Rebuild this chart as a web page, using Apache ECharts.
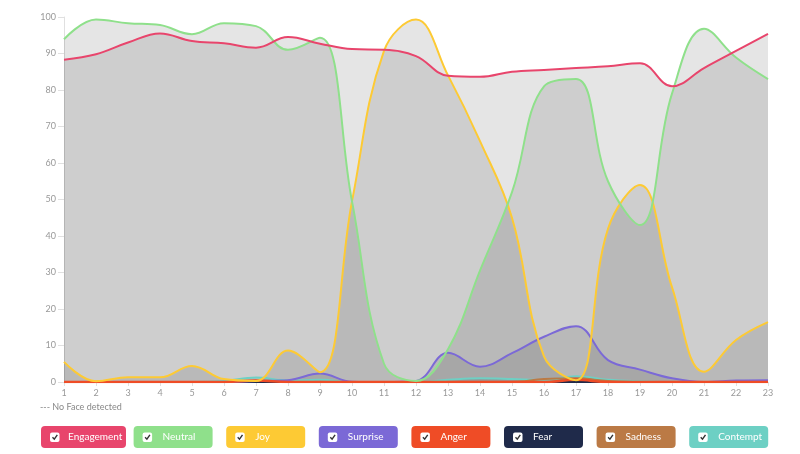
<!DOCTYPE html>
<html>
<head>
<meta charset="utf-8">
<script src="https://cdn.jsdelivr.net/npm/echarts@6/dist/echarts.min.js"></script>
<style>
html,body{margin:0;padding:0;background:#fff;}
#chart{width:800px;height:454px;}
</style>
</head>
<body>
<div id="chart"></div>
<script>
const categories = ['1','2','3','4','5','6','7','8','9','10','11','12','13','14','15','16','17','18','19','20','21','22','23'];
const seriesNames = ['Engagement','Neutral','Joy','Surprise','Anger','Fear','Sadness','Contempt'];
const seriesColors = ['#e8456c','#8fe08b','#fdca34','#7b69d6','#ef4c26','#1f2a4a','#bb7a45','#6dd0c4'];
const engagement = [88.3,89.8,93.0,95.5,93.4,92.8,91.6,94.5,92.7,91.2,91.0,89.3,83.9,83.6,85.0,85.5,86.0,86.5,87.3,81.0,86.0,90.7,95.4];
const neutral    = [93.9,99.3,98.3,97.8,95.3,98.3,97.5,91.0,94.3,49.5,5.0,0.3,9.0,30.5,52.0,81.0,83.0,55.0,43.0,79.0,96.8,88.9,83.0];
const joy        = [5.5,0.2,1.3,1.3,4.4,0.8,0.3,8.6,2.7,49.5,90.7,99.3,84.0,66.0,45.0,7.0,0.5,42.0,54.0,26.0,2.8,11.5,16.4];
const surprise   = [0,0,0,0,0,0,0.3,0.5,2.3,0.1,0,0.3,8.0,4.2,7.9,12.4,15.3,6.0,3.4,1.0,0,0.4,0.5];
const anger      = [0,0,0,0,0,0,0.4,0,0,0,0,0,0,0,0,0,0.6,0,0,0,0,0,0];
const fear       = [0,0,0,0,0,0,0,0,0,0,0,0,0,0,0,0,0,0,0,0,0,0,0];
const sadness    = [0,0,0,0,0,0,0,0,0,0,0,0,0,0,0,0.8,1.0,0.3,0,0,0,0,0];
const contempt   = [0,0,0,0,0,0.3,1.2,0.4,0.6,0,0,0,0.6,1.0,0.8,0.5,1.6,0.6,0.2,0,0,0,0];
const yTicks = {min:0, max:100, interval:10};
const noteText = '--- No Face detected';

const seriesData = [engagement, neutral, joy, surprise, anger, fear, sadness, contempt];
// line stacking order (higher = drawn on top)
const lineZ = [20, 19, 18, 16, 17, 15, 14, 13];

const chart = echarts.init(document.getElementById('chart'), null, {renderer:'canvas'});

const series = [];
for (let i = seriesNames.length - 1; i >= 0; i--) {
  series.push({
    name: seriesNames[i] + ' area',
    type: 'line',
    data: seriesData[i],
    smooth: 0.4,
    symbol: 'none',
    silent: true,
    lineStyle: {width: 0, opacity: 0},
    areaStyle: {color: 'rgba(0,0,0,0.1)', opacity: 1, origin: 'start'},
    z: 2
  });
}
for (let i = seriesNames.length - 1; i >= 0; i--) {
  series.push({
    name: seriesNames[i],
    type: 'line',
    data: seriesData[i],
    smooth: 0.4,
    symbol: 'none',
    lineStyle: {color: seriesColors[i], width: i === 4 ? 2.5 : 2},
    itemStyle: {color: seriesColors[i]},
    z: lineZ[i]
  });
}

const graphics = [{
  type: 'text', left: 40, top: 403,
  style: {text: noteText, fill: '#888', font: '9px Lato, sans-serif'}
}];
seriesNames.forEach((name, i) => {
  const x = 41 + i * 92.6;
  const w = i === 0 ? 85 : 79;
  graphics.push({
    type: 'group', left: x, top: 426,
    children: [
      {type:'rect', shape:{x:0,y:0,width:w,height:22,r:4}, style:{fill:seriesColors[i]}},
      {type:'rect', shape:{x:9,y:6.5,width:9.5,height:9.5,r:2}, style:{fill:'#fff'}},
      {type:'polyline', shape:{points:[[11.5,11.3],[13.3,13.2],[16.3,8.8]]}, style:{stroke:'#333', lineWidth:1.4, fill:null}},
      {type:'text', x: i === 0 ? 27 : 29, y: 11, style:{text:name, fill:'#fff', font:'10px Lato, sans-serif', verticalAlign:'middle', textVerticalAlign:'middle'}}
    ]
  });
});

chart.setOption({
  animation: false,
  grid: {left: 64, right: 32, top: 17, bottom: 72, containLabel: false},
  xAxis: {
    type: 'category',
    data: categories,
    boundaryGap: false,
    axisLine: {show: true, lineStyle: {color: '#e0e0e0'}},
    axisTick: {show: true, alignWithLabel: true, length: 4, lineStyle: {color: '#e0e0e0'}},
    axisLabel: {color: '#999', fontSize: 9, margin: 7, fontFamily: 'Lato, sans-serif'},
    splitLine: {show: false}
  },
  yAxis: {
    type: 'value',
    min: yTicks.min, max: yTicks.max, interval: yTicks.interval,
    axisLine: {show: true, lineStyle: {color: '#e0e0e0'}},
    axisTick: {show: true, length: 6, lineStyle: {color: '#e0e0e0'}},
    axisLabel: {color: '#999', fontSize: 9, margin: 8, fontFamily: 'Lato, sans-serif'},
    splitLine: {show: false}
  },
  series: series,
  graphic: graphics
});
</script>
</body>
</html>
